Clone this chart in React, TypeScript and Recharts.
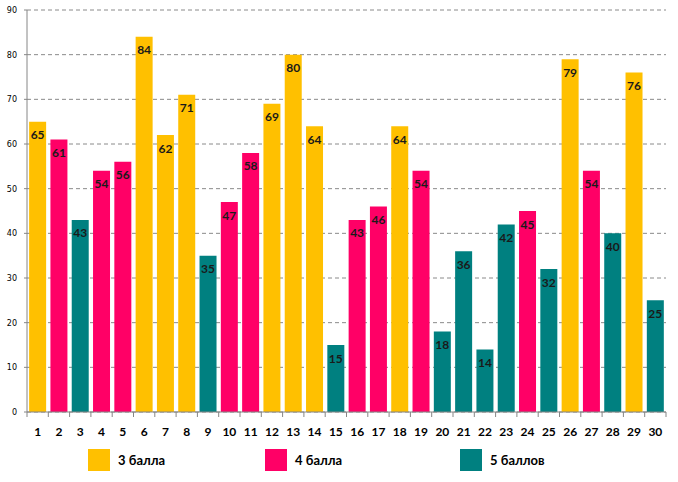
import React from "react";
import { BarChart, Bar, XAxis, YAxis, CartesianGrid, Cell, LabelList } from "recharts";

const categories = ["1","2","3","4","5","6","7","8","9","10","11","12","13","14","15","16","17","18","19","20","21","22","23","24","25","26","27","28","29","30"];
const values = [65,61,43,54,56,84,62,71,35,47,58,69,80,64,15,43,46,64,54,18,36,14,42,45,32,79,54,40,76,25];
const grades = [3,4,5,4,4,3,3,3,5,4,4,3,3,3,5,4,4,3,4,5,5,5,5,4,5,3,4,5,3,5];
const yTicks = [0,10,20,30,40,50,60,70,80,90];
const legendLabels = ["3 балла", "4 балла", "5 баллов"];
const gradeColors: Record<number, string> = { 3: "#FFC000", 4: "#FF0066", 5: "#008080" };

const data = categories.map((c, i) => ({ name: c, value: values[i], grade: grades[i] }));

const W = 678, H = 482;
const M = { top: 10, right: 12, left: 0, bottom: 40 };
const Y_W = 27;
const bandW = (W - M.right - Y_W) / categories.length;

const XTick = (props: any) => {
  const { x, y, payload, index } = props;
  const half = bandW / 2;
  return (
    <g>
      <line x1={x - half} x2={x - half} y1={y - 8} y2={y - 3} stroke="#868686" />
      {index === categories.length - 1 && (
        <line x1={x + half} x2={x + half} y1={y - 8} y2={y - 3} stroke="#868686" />
      )}
      <text x={x} y={y + 16} textAnchor="middle" fontFamily="Lato, 'Open Sans', sans-serif" fontWeight="bold" fontSize={12} fill="#000">
        {payload.value}
      </text>
    </g>
  );
};

export default function App() {
  const legendPos = [88, 265, 460];
  return (
    <div style={{ position: "absolute", left: 0, top: 0, width: W, height: H, background: "#fff" }}>
      <BarChart width={W} height={H} data={data} margin={M} barCategoryGap="10%">
        <CartesianGrid vertical={false} stroke="#8a8a8a" strokeDasharray="4 3" />
        <XAxis
          dataKey="name"
          height={30}
          stroke="#868686"
          tickLine={false}
          tick={<XTick />}
          interval={0}
        />
        <YAxis
          width={Y_W}
          domain={[0, 90]}
          ticks={yTicks}
          interval={0}
          stroke="#868686"
          tickSize={3}
          tickMargin={7}
          tick={{ fontSize: 8, fill: "#000", fontFamily: "'DejaVu Sans', sans-serif" }}
        />
        <Bar dataKey="value" isAnimationActive={false}>
          {data.map((d, i) => (
            <Cell key={i} fill={gradeColors[d.grade]} />
          ))}
          <LabelList
            dataKey="value"
            position="insideTop"
            offset={9}
            fill="#1a1a1a"
            fontSize={12}
            fontWeight="bold"
            fontFamily="Lato, 'Open Sans', sans-serif"
          />
        </Bar>
      </BarChart>
      {legendLabels.map((l, i) => (
        <div key={l} style={{ position: "absolute", left: legendPos[i], top: 449, display: "flex", alignItems: "center" }}>
          <div style={{ width: 22, height: 22, background: gradeColors[i + 3] }} />
          <span style={{ marginLeft: 8, fontFamily: "Lato, 'Open Sans', sans-serif", fontWeight: "bold", fontSize: 13, color: "#000" }}>{l}</span>
        </div>
      ))}
    </div>
  );
}
